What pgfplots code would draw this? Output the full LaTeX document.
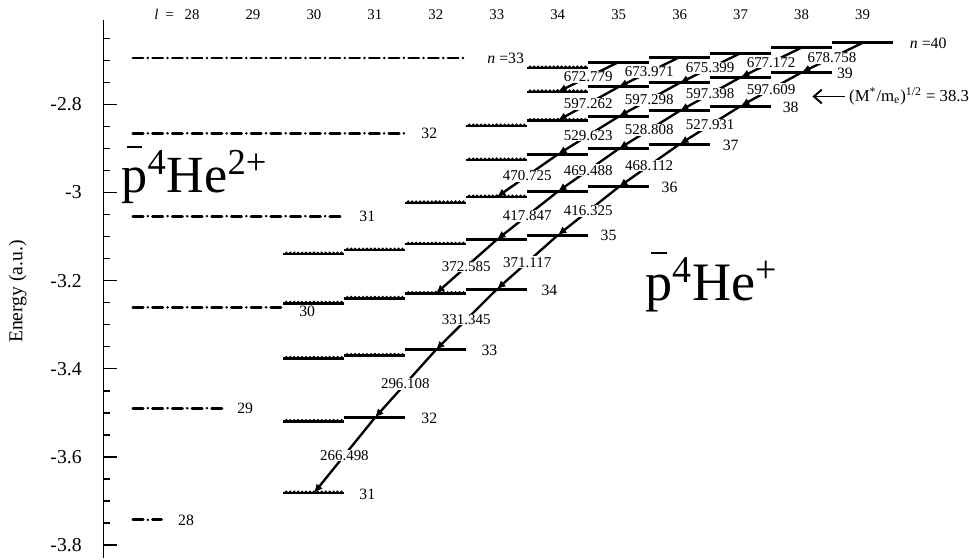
\documentclass[border=0pt]{standalone}
\usepackage{fontspec}
\setmainfont{Liberation Serif}
\usepackage{pgfplots}
\pgfplotsset{compat=1.18}
\usetikzlibrary{arrows.meta}

% pbar-4He+ levels (l, energy in a.u.)
\pgfplotstableread{
l E
30 -3.6820
30 -3.5196
30 -3.3765
31 -3.3698
30 -3.2514
31 -3.2402
32 -3.2293
30 -3.1397
31 -3.1307
32 -3.1173
32 -3.0235
33 -3.0103
33 -2.9263
33 -2.8492
34 -2.8366
34 -2.7716
34 -2.7173
}\auger
\pgfplotstableread{
l E
31 -3.51103
32 -3.35716
33 -3.21965
33 -3.10700
34 -3.09687
34 -2.99796
35 -2.98743
34 -2.91350
35 -2.90091
36 -2.89010
35 -2.82750
36 -2.81475
37 -2.80379
35 -2.76030
36 -2.75120
37 -2.73848
38 -2.72755
35 -2.70390
36 -2.69270
37 -2.68370
38 -2.67119
39 -2.66042
}\meta

\newcommand{\pbar}{\makebox[0pt][l]{\hspace{0.1em}\raisebox{0.85em}{\rule{0.3em}{0.04em}}}p}
\tikzset{
  wl/.style={pos=0.5, fill=white, inner sep=0.4pt, font=\fontsize{7.6}{9}\selectfont},
  nl/.style={font=\fontsize{8}{10}\selectfont},
}

\begin{document}
\begin{tikzpicture}
\begin{axis}[
  scale only axis, width=432pt, height=273.5pt,
  xmin=26.546, xmax=40.504, ymin=-3.83017, ymax=-2.60782,
  axis x line=none, axis y line=left,
  y axis line style={-, line width=0.7pt},
  ytick={-3.8,-3.6,-3.4,-3.2,-3,-2.8},
  yticklabels={-3.8,-3.6,-3.4,-3.2,-3,-2.8},
  minor ytick={-3.75,-3.7,-3.65,-3.55,-3.5,-3.45,-3.35,-3.3,-3.25,-3.15,-3.1,-3.05,-2.95,-2.9,-2.85,-2.75,-2.7,-2.65},
  tick align=inside, major tick length=7pt, minor tick length=3.5pt,
  every tick/.style={black, line width=0.7pt},
  yticklabel style={font=\fontsize{10}{12}\selectfont, xshift=-7.5pt},
  clip=false,
  lev/.style={draw=none, no markers, forget plot, error bars/x dir=both, error bars/x fixed=0.5, error bars/error mark=none},
  ion/.style={black, line width=1.4pt, line cap=round, dash pattern=on 5.2pt off 2.4pt on 0pt off 2.4pt, forget plot},
  tr/.style={black, line width=1.2pt, -{Latex[length=4.5pt,width=4pt]}, forget plot},
]
% pbar-4He2+ ionic levels
\addplot[ion] coordinates {(27.03,-3.7428) (27.5,-3.7428)};
\addplot[ion] coordinates {(27.03,-3.4893) (28.5,-3.4893)};
\addplot[ion] coordinates {(27.03,-3.2606) (29.5,-3.2606)};
\addplot[ion] coordinates {(27.03,-3.0536) (30.5,-3.0536)};
\addplot[ion] coordinates {(27.03,-2.8657) (31.5,-2.8657)};
\addplot[ion] coordinates {(27.03,-2.6947) (32.5,-2.6947)};

% short-lived (Auger) levels: base line plus a row of beads for the wavy look
\addplot[lev, error bars/error bar style={draw=black, line width=1.25pt}] table[x=l, y=E] {\auger};
\addplot[lev, error bars/error bar style={draw=black, line width=1.7pt, line cap=round, dash pattern=on 0pt off 2pt, yshift=0.5pt}] table[x=l, y=E] {\auger};
% metastable levels
\addplot[lev, error bars/error bar style={draw=black, line width=1.5pt}] table[x=l, y=E] {\meta};

% transitions (n,l) -> (n-1,l-1), wavelength in nm
\addplot[tr] coordinates {(31,-3.51103) (30,-3.68200)} node[wl]{266.498};
\addplot[tr] coordinates {(32,-3.35716) (31,-3.51103)} node[wl]{296.108};
\addplot[tr] coordinates {(33,-3.21965) (32,-3.35716)} node[wl]{331.345};
\addplot[tr] coordinates {(34,-3.09687) (33,-3.21965)} node[wl]{371.117};
\addplot[tr] coordinates {(35,-2.98743) (34,-3.09687)} node[wl]{416.325};
\addplot[tr] coordinates {(36,-2.89010) (35,-2.98743)} node[wl]{468.112};
\addplot[tr] coordinates {(37,-2.80379) (36,-2.89010)} node[wl]{527.931};
\addplot[tr] coordinates {(38,-2.72755) (37,-2.80379)} node[wl]{597.609};
\addplot[tr] coordinates {(39,-2.66042) (38,-2.72755)} node[wl]{678.758};
\addplot[tr] coordinates {(33,-3.10700) (32,-3.22930)} node[wl]{372.585};
\addplot[tr] coordinates {(34,-2.99796) (33,-3.10700)} node[wl]{417.847};
\addplot[tr] coordinates {(35,-2.90091) (34,-2.99796)} node[wl]{469.488};
\addplot[tr] coordinates {(36,-2.81475) (35,-2.90091)} node[wl]{528.808};
\addplot[tr] coordinates {(37,-2.73848) (36,-2.81475)} node[wl]{597.398};
\addplot[tr] coordinates {(38,-2.67119) (37,-2.73848)} node[wl]{677.172};
\addplot[tr] coordinates {(34,-2.91350) (33,-3.01030)} node[wl]{470.725};
\addplot[tr] coordinates {(35,-2.82750) (34,-2.91350)} node[wl]{529.623};
\addplot[tr] coordinates {(36,-2.75120) (35,-2.82750)} node[wl]{597.298};
\addplot[tr] coordinates {(37,-2.68370) (36,-2.75120)} node[wl]{675.399};
\addplot[tr] coordinates {(35,-2.76030) (34,-2.83660)} node[wl]{597.262};
\addplot[tr] coordinates {(36,-2.69270) (35,-2.76030)} node[wl]{673.971};
\addplot[tr] coordinates {(35,-2.70390) (34,-2.77160)} node[wl]{672.779};

% labels
\pgfplotsinvokeforeach{28,...,39}{\node[font=\fontsize{7.5}{9}\selectfont] at (axis cs:#1,-2.5966) {#1};}
\node[anchor=east, font=\fontsize{7.5}{9}\selectfont] at (axis cs:27.82,-2.5966) {\textit{l}\,\,\,=};
\node[anchor=west, nl] at (axis cs:32.733,-2.6947) {\textit{n} =33};
\node[nl] at (axis cs:31.893,-2.8657) {32};
\node[nl] at (axis cs:30.876,-3.0536) {31};
\node[nl] at (axis cs:29.89,-3.2693) {30};
\node[nl] at (axis cs:28.872,-3.4893) {29};
\node[nl] at (axis cs:27.903,-3.7428) {28};

\node[nl] at (axis cs:30.876,-3.6840) {31};
\node[nl] at (axis cs:31.893,-3.5130) {32};
\node[nl] at (axis cs:32.879,-3.3590) {33};
\node[nl] at (axis cs:33.864,-3.2210) {34};
\node[nl] at (axis cs:34.834,-3.0980) {35};
\node[nl] at (axis cs:35.835,-2.9890) {36};
\node[nl] at (axis cs:36.837,-2.8920) {37};
\node[nl] at (axis cs:37.822,-2.8060) {38};
\node[nl] at (axis cs:38.711,-2.7290) {39};
\node[anchor=west, nl] at (axis cs:39.664,-2.6604) {\textit{n} =40};

\draw[-{Straight Barb[length=4pt,width=7pt]}, line width=1pt] (axis cs:38.711,-2.7821) -- (axis cs:38.178,-2.7821);
\node[anchor=west, inner sep=0pt, font=\fontsize{8.5}{10}\selectfont] at (axis cs:38.775,-2.7821) {(M\textsuperscript{*}/m\textsubscript{e})\textsuperscript{1/2} = 38.3};

\node[anchor=base west, inner sep=0pt, font=\fontsize{26.5}{32}\selectfont] at (axis cs:26.837,-2.9989) {\pbar\textsuperscript{4}He\textsuperscript{2+}};
\node[anchor=base west, inner sep=0pt, font=\fontsize{27.5}{33}\selectfont] at (axis cs:35.431,-3.2447) {\pbar\textsuperscript{4}He\textsuperscript{+}};

\node[rotate=90, font=\fontsize{10}{12}\selectfont] at (axis cs:25.14,-3.2246) {Energy (a.u.)};

\path (axis cs:24.85,-3.83017) rectangle (axis cs:40.504,-2.56313);
\end{axis}
\end{tikzpicture}
\end{document}
